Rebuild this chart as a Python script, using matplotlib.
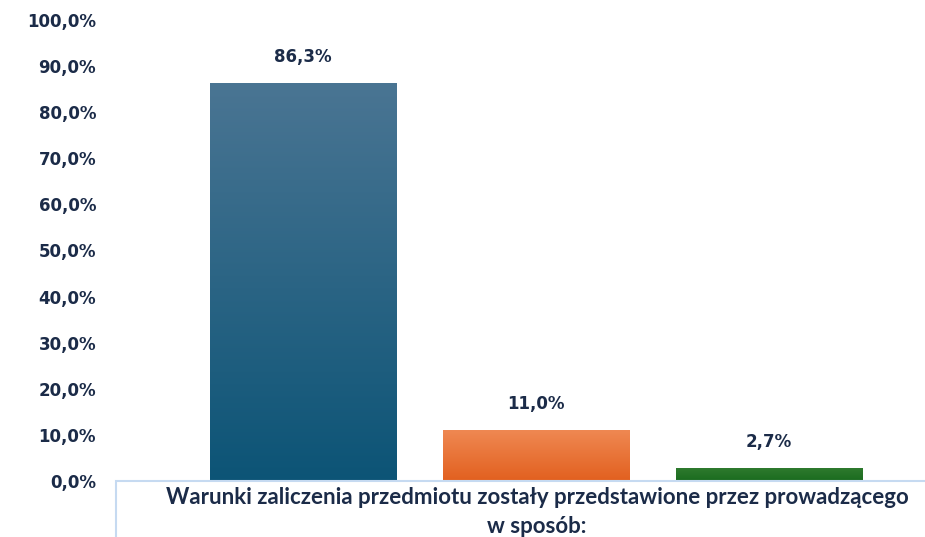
import numpy as np
import matplotlib
matplotlib.use("Agg")
import matplotlib.pyplot as plt
import matplotlib.patches as patches
from matplotlib.colors import LinearSegmentedColormap

# data
categories = ["a", "b", "c"]
values = [86.3, 11.0, 2.7]
value_labels = ["86,3%", "11,0%", "2,7%"]
yticks = [0, 10, 20, 30, 40, 50, 60, 70, 80, 90, 100]
ytick_labels = ["0,0%", "10,0%", "20,0%", "30,0%", "40,0%", "50,0%",
                "60,0%", "70,0%", "80,0%", "90,0%", "100,0%"]
title = "Warunki zaliczenia przedmiotu zostały przedstawione przez prowadzącego\nw sposób:"

# gradient (top, bottom) per bar
grads = [("#4a7593", "#0c5476"), ("#ef8852", "#e2601f"), ("#2e7a2e", "#1a6b1e")]
text_color = "#1b2b48"

W, H = 925, 537
fig = plt.figure(figsize=(W / 100, H / 100), dpi=100)
ax = fig.add_axes([117 / W, (H - 481) / H, (W - 117) / W, 461 / H])

x = np.arange(len(categories))
bars = ax.bar(x, values, width=0.8, color="none", zorder=2)

grad = np.linspace(0, 1, 256).reshape(-1, 1)
for b, (top, bot) in zip(bars, grads):
    cmap = LinearSegmentedColormap.from_list("g", [bot, top])
    x0, y0 = b.get_x(), b.get_y()
    ax.imshow(grad, cmap=cmap, origin="lower", aspect="auto",
              extent=[x0, x0 + b.get_width(), y0, y0 + b.get_height()], zorder=1)

for xi, v, lab in zip(x, values, value_labels):
    ax.text(xi, v + 3.8, lab, ha="center", va="bottom", fontsize=12,
            fontweight="bold", color=text_color, family="DejaVu Sans")

ax.set_xlim(-0.8, 2.67)
ax.set_ylim(0, 100)
ax.set_yticks(yticks)
ax.set_yticklabels(ytick_labels, fontsize=12, fontweight="bold",
                   color=text_color, family="DejaVu Sans")
ax.tick_params(axis="y", length=0, pad=15)
ax.set_xticks([])
for s in ax.spines.values():
    s.set_visible(False)

# category box below the axis
box = patches.Rectangle((116 / W, -0.05), 1.0, (H - 481) / H + 0.05,
                        transform=fig.transFigure, facecolor="white",
                        edgecolor="#c6daf1", linewidth=1.5, clip_on=False)
fig.patches.append(box)
fig.text(537 / W, (H - 512) / H, title, ha="center", va="center",
         fontsize=16, fontweight="bold", color=text_color,
         family="Lato", linespacing=1.5)

fig.savefig("out.png", dpi=100)
